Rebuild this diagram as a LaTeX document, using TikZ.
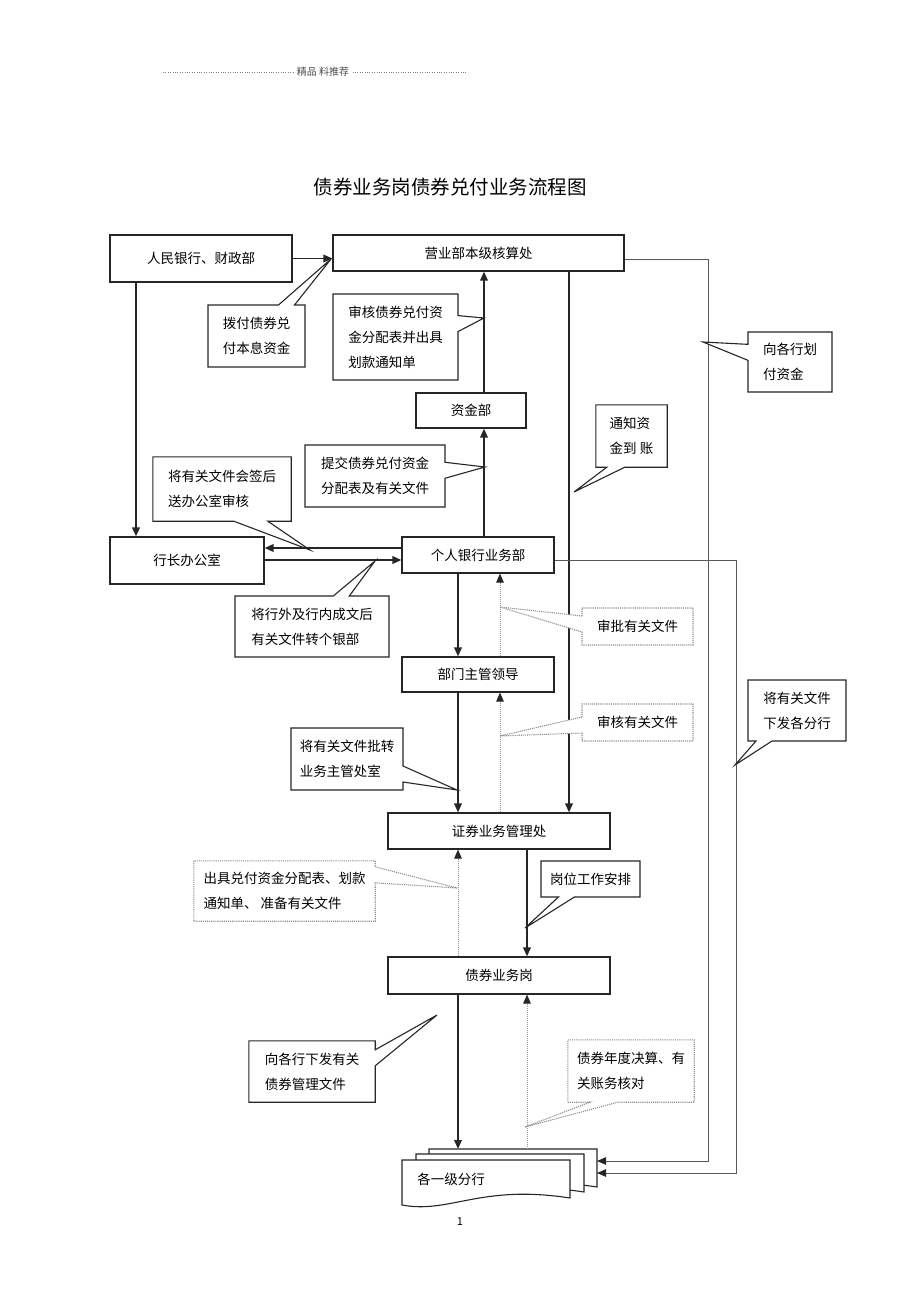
\documentclass[tikz,border=0pt]{standalone}
\usepackage{fontspec}
\setmainfont{Noto Sans CJK SC}
\usetikzlibrary{arrows.meta,shapes.callouts}

\tikzset{
  box/.style={draw=black!85, line width=1.1pt, inner sep=0pt, font=\fontsize{13.5}{25}\selectfont},
  notetext/.style={inner sep=0pt, align=left, font=\fontsize{13.5}{25}\selectfont},
  note/.style={notetext, rectangle callout, draw=black!85, line width=1.1pt, fill=white,
    callout pointer width=16pt},
  dnote/.style={note, draw=black!45, densely dotted},
  noteline/.style={draw=black!85, line width=1.1pt, line join=miter},
  dnoteline/.style={draw=black!45, line width=1.1pt, densely dotted},
  arr/.style={line width=1.8pt, black!85, -{Triangle[length=9pt,width=7.5pt]}},
  darr/.style={line width=1pt, black!40, densely dotted, -{Triangle[length=9pt,width=7.5pt,color=black!85]}},
  side/.style={line width=1pt, black!65, -{Triangle[length=9pt,width=7.5pt,color=black!85]}},
}

\begin{document}
\begin{tikzpicture}[x=1pt,y=-1pt]
  \useasboundingbox (0,0) rectangle (920,1303);

  % header and title
  \node[font=\fontsize{10}{12}\selectfont, text=black!70] (hdr) at (323,72) {精品 料推荐};
  \draw[black!50, dotted] (163,72) -- (hdr.west);
  \draw[black!50, dotted] (hdr.east) -- (466,72);
  \node[font=\fontsize{19.5}{22}\selectfont] (ttl) at (450,187) {债券业务岗债券兑付业务流程图};

  % columns and rows for the connectors
  \coordinate (xa) at (136,0);
  \coordinate (xb) at (458,0);
  \coordinate (xc) at (484,0);
  \coordinate (xd) at (500,0);
  \coordinate (xe) at (527,0);
  \coordinate (xf) at (569,0);
  \coordinate (xg) at (708,0);
  \coordinate (xh) at (736,0);
  \coordinate (dr) at (597,0);
  \coordinate (r0) at (0,259);
  \coordinate (r1) at (0,548);
  \coordinate (r2) at (0,560);
  \coordinate (rd1) at (0,1161);
  \coordinate (rd2) at (0,1173);
  \coordinate (dtop) at (0,1149);

  % boxes
  \node[box, minimum width=182pt, minimum height=47pt] (rmyh) at (201,258.5) {人民银行、财政部};
  \node[box, minimum width=291pt, minimum height=36pt] (yyb) at (478.5,253) {营业部本级核算处};
  \node[box, minimum width=110pt, minimum height=35pt] (zjb) at (471,410.5) {资金部};
  \node[box, minimum width=154pt, minimum height=47pt] (hzb) at (187,560.5) {行长办公室};
  \node[box, minimum width=152pt, minimum height=36pt] (grb) at (478,555) {个人银行业务部};
  \node[box, minimum width=152pt, minimum height=35pt] (bmld) at (478,674.5) {部门主管领导};
  \node[box, minimum width=222pt, minimum height=36pt] (zqc) at (499,831) {证券业务管理处};
  \node[box, minimum width=222pt, minimum height=37pt] (zqg) at (499,975.5) {债券业务岗};

  % 各一级分行
  \foreach \dx/\dy in {27/-11, 14/-6, 0/0} {
    \begin{scope}[shift={(\dx,\dy)}]
      \draw[fill=white, draw=black!85, line width=1.1pt] (402,1160) -- (570,1160) -- (570,1198)
        .. controls (480,1184) and (450,1214) .. (402,1205) -- cycle;
    \end{scope}
  }
  \node[font=\fontsize{13.5}{16}\selectfont] (fh) at (451,1179) {各一级分行};

  % connectors
  \draw[arr] (rmyh.east) -- (rmyh.east -| yyb.west);
  \draw[arr] (rmyh.south -| xa) -- (hzb.north -| xa);
  \draw[arr] (zjb.north -| xc) -- (yyb.south -| xc);
  \draw[arr] (grb.north -| xc) -- (zjb.south -| xc);
  \draw[arr] (yyb.south -| xf) -- (zqc.north -| xf);
  \draw[arr] (grb.west |- r1) -- (hzb.east |- r1);
  \draw[arr] (hzb.east |- r2) -- (grb.west |- r2);
  \draw[side] (yyb.east |- r0) -- (xg |- r0) -- (xg |- rd1) -- (dr |- rd1);
  \draw[side] (grb.east |- r2) -- (xh |- r2) -- (xh |- rd2) -- (dr |- rd2);
  \draw[arr] (grb.south -| xb) -- (bmld.north -| xb);
  \draw[darr] (bmld.north -| xd) -- (grb.south -| xd);
  \draw[arr] (bmld.south -| xb) -- (zqc.north -| xb);
  \draw[darr] (zqc.north -| xd) -- (bmld.south -| xd);
  \draw[darr] (zqg.north -| xb) -- (zqc.south -| xb);
  \draw[arr] (zqc.south -| xe) -- (zqg.north -| xe);
  \draw[arr] (zqg.south -| xb) -- (dtop -| xb);
  \draw[darr] (dtop -| xe) -- (zqg.south -| xe);

  % notes
  \node[note, minimum width=97pt, minimum height=62pt, callout absolute pointer={(331,259)}]
    (n1) at (256.5,336) {拨付债券兑\\付本息资金};
  \node[note, minimum width=125pt, minimum height=86pt, callout absolute pointer={(484,318)}]
    (n2) at (395.5,337) {审核债券兑付资\\金分配表并出具\\划款通知单};
  \node[note, minimum width=84pt, minimum height=60pt, callout absolute pointer={(703,342)}]
    (n3) at (790,362) {向各行划\\付资金};
  \node[notetext, minimum width=71pt, minimum height=62pt] (n4) at (631.5,436) {通知资\\金到 账};
  \draw[noteline] (n4.south west) -- ([xshift=11pt]n4.south west) -- (574,492)
    -- ([xshift=29pt]n4.south west) -- (n4.south east) -- (n4.north east) -- (n4.north west) -- cycle;
  \node[note, minimum width=140pt, minimum height=62pt, callout absolute pointer={(485,467)}]
    (n5) at (375,476) {提交债券兑付资金\\分配表及有关文件};
  \node[notetext, minimum width=138pt, minimum height=64pt] (n6) at (222,489) {将有关文件会签后\\送办公室审核};
  \draw[noteline] (n6.south west) -- ([xshift=81pt]n6.south west) -- (310,550)
    -- ([xshift=115pt]n6.south west) -- (n6.south east) -- (n6.north east) -- (n6.north west) -- cycle;
  \node[note, minimum width=154pt, minimum height=61pt, callout absolute pointer={(375,561)}]
    (n7) at (312,626.5) {将行外及行内成文后\\有关文件转个银部};
  \node[dnote, minimum width=111pt, minimum height=37pt, callout absolute pointer={(500,607)}]
    (n8) at (637.5,626.5) {审批有关文件};
  \node[dnote, minimum width=111pt, minimum height=37pt, callout absolute pointer={(500,736)}]
    (n9) at (637.5,722.5) {审核有关文件};
  \node[note, minimum width=98pt, minimum height=61pt, callout absolute pointer={(735,765)}]
    (n10) at (797,710.5) {将有关文件\\下发各分行};
  \node[note, minimum width=112pt, minimum height=62pt, callout absolute pointer={(457,790)}]
    (n11) at (347,759) {将有关文件批转\\业务主管处室};
  \node[notetext, minimum width=181pt, minimum height=60pt] (n12) at (284.5,891) {出具兑付资金分配表、划款\\通知单、 准备有关文件};
  \draw[dnoteline] (n12.north east) -- ([yshift=-6pt]n12.north east) -- (457,888)
    -- ([yshift=-22pt]n12.north east) -- (n12.south east) -- (n12.south west) -- (n12.north west) -- cycle;
  \node[note, minimum width=99pt, minimum height=36pt, callout absolute pointer={(525,928)}]
    (n13) at (590.5,879) {岗位工作安排};
  \node[notetext, minimum width=126pt, minimum height=61pt] (n14) at (312,1071.5) {向各行下发有关\\债券管理文件};
  \draw[noteline] (n14.north east) -- ([yshift=-9pt]n14.north east) -- (437,1015)
    -- ([yshift=-25pt]n14.north east) -- (n14.south east) -- (n14.south west) -- (n14.north west) -- cycle;
  \node[notetext, minimum width=126pt, minimum height=62pt] (n15) at (631,1071) {债券年度决算、有\\关账务核对};
  \draw[dnoteline] (n15.south west) -- ([xshift=22pt]n15.south west) -- (525,1127)
    -- ([xshift=50pt]n15.south west) -- (n15.south east) -- (n15.north east) -- (n15.north west) -- cycle;

  % page number
  \node[font=\fontsize{11}{12}\selectfont] (pgn) at (460,1222) {1};
\end{tikzpicture}
\end{document}
